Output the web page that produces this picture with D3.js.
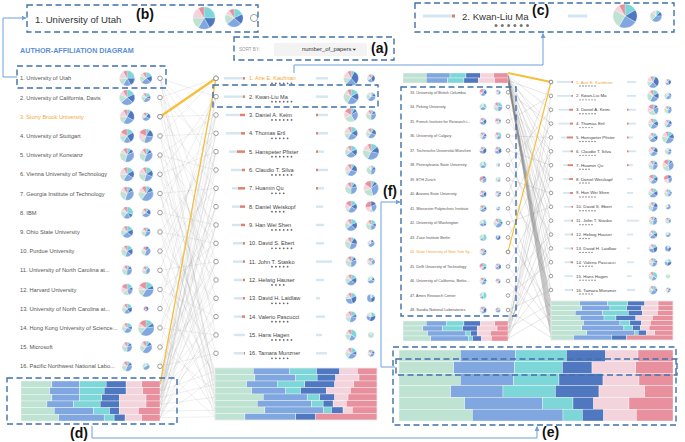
<!DOCTYPE html>
<html><head><meta charset="utf-8">
<script src="https://cdn.jsdelivr.net/npm/d3@7"></script>
<style>body{margin:0;background:#fff}svg{display:block}text{font-family:"Liberation Sans",Arial,sans-serif}</style>
</head><body><svg id="c" width="685" height="442"></svg>
<script>
// ---------------- DATA ----------------
const leftUnis = ["University of Utah","University of California, Davis","Stony Brook University","University of Stuttgart","University of Konstanz","Vienna University of Technology","Georgia Institute of Technology","IBM","Ohio State University","Purdue University","University of North Carolina at...","Harvard University","University of North Carolina at...","Hong Kong University of Science...","Microsoft","Pacific Northwest National Labo..."];
const leftR1 = [7.7,7.7,7.3,7,7,7,6.7,6,6,5.7,5,5.7,5,5,5,5];
const leftR2 = [6,4.5,4.3,7,6.5,7,7.3,4.5,4.5,4.5,4,7.5,2.5,8,6,3.5];
const leftP1 = [[3,2,2,2,2,1],[2,2,3,2,1,1],[1,3,3,2,2,1],[2,3,2,2,1,2],[1,1,4,3,1,1],[2,2,3,2,2,1],[1,1,4,3,1,1],[3,1,2,2,1,1],[2,2,3,2,1,1],[2,2,2,3,1,1],[1,1,3,3,1,1],[2,1,2,2,2,2],[2,2,2,2,1,1],[2,1,3,2,1,1],[1,1,3,3,1,1],[1,1,3,2,1,1]];
const leftP2 = [[2,2,3,2,1,1],[2,1,3,2,1,1],[1,2,3,1,1,1],[1,2,3,1,2,2],[1,1,4,3,1,1],[2,2,3,3,2,1],[1,1,4,2,1,1],[1,2,3,1,1,1],[1,1,3,2,1,1],[0,1,4,2,1,1],[1,0,3,2,1,1],[2,1,4,2,1,2],[0,2,1,0,0,2],[2,1,5,2,1,2],[1,1,4,2,1,1],[1,0,3,2,0,0]];
const leftHighlightIndex = 2;

const authors = ["Arie E. Kaufman","Kwan-Liu Ma","Daniel A. Keim","Thomas Ertl","Hanspeter Pfister","Claudio T. Silva","Huamin Qu","Daniel Weiskopf","Han Wei Shen","David S. Ebert","John T. Stasko","Helwig Hauser","David H. Laidlaw","Valerio Pascucci","Hans Hagen","Tamara Munzner"];
const authorStars = [6,6,6,5,6,6,4,4,6,6,5,4,5,5,6,5];
const authorBar1 = [21,21,19,19,16,14,13,13,13,12,12,11,11,11,11,11];
const authorRed1 = [2,2,5,4,8,3,7,5,4,2,2,2,2,3,0,1];
const authorBar2 = [12,12,12,12,8,12,8,7,8,8,16,8,4,9,6,11];
const authorRed2 = [0,0,2,2,2,2,2,0,0,0,0,0,0,0,0,0];
const authorR1 = [7.5,7.5,7,6.5,6,6,6,6,6,6,5.5,5.5,5.5,5.5,5.5,5.5];
const authorR2 = [4,4.5,5,5,8,4.5,7.5,5.5,5,3.5,4,3.5,4,4.5,3,3.5];
const authorP1 = [[1,4,3,2,2,1],[2,2,3,3,1,1],[1,1,3,3,2,2],[2,2,3,2,2,1],[2,2,3,2,1,1],[1,2,3,1,2,1],[1,1,3,3,1,1],[2,2,3,1,2,2],[2,2,3,2,1,1],[1,2,3,3,1,1],[1,1,3,3,1,1],[2,2,3,2,1,1],[2,3,3,1,1,1],[2,1,3,2,2,1],[3,0,2,2,1,1],[2,1,3,2,1,1]];
const authorP2 = [[1,3,2,1,1,1],[1,1,3,2,1,0],[1,1,3,3,1,1],[1,2,3,2,1,1],[2,2,4,3,2,1],[1,1,2,3,1,0],[1,1,4,3,2,2],[0,2,3,1,2,3],[2,1,2,3,1,1],[0,1,3,1,1,0],[1,0,2,2,1,1],[1,1,3,2,0,0],[1,2,3,0,0,0],[2,3,2,1,1,0],[0,0,0,1,0,0],[1,1,2,1,1,1]];
const authorHighlightIndex = 0;

const moreUnis = ["33. University of British Columbia","34. Peking University","35. French Institute for Research i...","36. University of Calgary","37. Technische Universität München","38. Pennsylvania State University","39. ETH Zurich","40. Arizona State University","41. Worcester Polytechnic Institute","42. University of Washington","43. Zuse Institute Berlin","44. State University of New York Sy...","45. Delft University of Technology","46. University of California, Berke...","47. Ames Research Center","48. Sandia National Laboratories"];
const moreR1 = [3.5,3.5,3.5,3.5,3.5,3.5,3.5,3.5,3.5,3.5,3.5,3.5,3.5,3.5,3.5,3.5];
const moreR2 = [2.5,4.5,3,3.5,3.5,2,2.5,3,2,4.5,2.5,0,3,2.5,0,2.5];
const moreP1 = [[1,2,2,0,1,2],[2,0,2,2,0,0],[1,2,2,0,1,1],[1,1,2,1,1,1],[1,3,2,0,1,1],[2,0,2,2,0,0],[0,1,2,1,0,2],[1,2,2,0,1,1],[1,1,2,1,0,1],[2,1,2,1,1,0],[3,0,1,2,0,0],[1,1,2,1,1,1],[2,1,1,0,1,2],[1,1,2,1,1,1],[3,0,1,2,0,0],[1,2,1,1,1,1]];
const moreP2 = [[1,1,1,1,1,1],[2,0,2,2,1,1],[1,1,1,2,1,2],[2,0,2,1,1,1],[1,2,2,0,1,1],[0,0,1,1,0,0],[1,0,1,2,0,0],[1,1,2,1,1,1],[0,1,2,1,0,0],[2,1,3,2,1,1],[0,3,2,0,0,0],[0,0,0,0,0,0],[1,2,2,0,1,1],[1,1,0,0,1,1],[0,0,0,0,0,0],[1,0,2,0,0,1]];
const moreHighlightIndex = 11;

// stacked bar rows: mint, blue, cyan, dark, lightpink, rose
const barLeft = [[93,83,80,60,47,55],[86,90,74,66,50,52],[93,83,67,53,80,42],[78,80,80,58,80,42],[100,118,48,30,57,65],[113,137,30,33,50,55]];
const barMiddle = [[115,110,80,70,53,59],[120,123,64,56,70,54],[95,92,83,90,57,70],[110,103,44,78,72,80],[145,132,38,45,40,87],[127,163,35,30,40,92],[150,177,23,35,28,74],[90,153,0,60,0,184]];
const barTopRight = [[70,72,48,44,40,43],[70,64,50,43,50,40]];
const barBottomMore = [[70,62,52,50,43,40],[60,60,60,44,60,33],[74,116,14,20,40,53],[84,113,13,27,30,50]];
const barRight = [[86,84,61,52,40,45],[93,85,50,45,50,45],[73,83,77,43,45,47],[88,72,36,60,50,62],[98,110,30,35,27,68],[93,127,26,24,26,72],[108,145,10,25,25,55],[68,115,0,45,0,140]];
const barZoom = [[184,166,152,118,97,105],[164,183,143,89,131,112],[184,160,136,132,108,102],[155,157,157,131,137,85],[197,233,92,62,106,132],[220,272,58,64,98,110]];

// links: [source, target]; left sources 0-15 list, 16-21 bar rows; targets 0-15 authors, 16-23 bar rows
const leftLinks = [[0,1],[0,5],[0,9],[0,14],[0,20],[1,0],[1,4],[1,10],[1,18],[2,6],[2,12],[3,3],[3,7],[3,11],[3,17],[4,2],[4,8],[4,15],[4,21],[5,4],[5,9],[5,13],[5,19],[6,6],[6,10],[6,16],[6,22],[7,1],[7,11],[7,18],[8,9],[8,14],[8,20],[9,3],[9,12],[9,23],[10,10],[10,15],[10,17],[11,5],[11,13],[11,21],[12,8],[12,16],[13,7],[13,14],[13,22],[14,2],[14,12],[14,19],[15,11],[15,15],[15,23],[16,0],[16,3],[16,7],[16,13],[17,1],[17,5],[17,9],[17,16],[18,2],[18,6],[18,11],[18,18],[19,4],[19,8],[19,14],[19,20],[20,6],[20,10],[20,15],[20,22],[21,12],[21,13],[21,17],[21,23],[0,3],[2,2],[3,0],[4,5],[5,1],[6,3],[7,8],[8,4],[9,6],[10,2],[11,9],[12,0],[13,4],[14,10],[15,7],[16,10],[17,14],[18,4],[19,1],[20,3],[21,8]];
const leftHiThick = [[2,0]];
const leftHiThin = [[16,0]];
// right sources: 0-1 top bar rows, 2-17 list, 18-21 bottom bar rows
const rightLinks = [[0,2],[0,4],[0,6],[0,8],[0,10],[0,12],[0,14],[0,16],[0,17],[0,18],[0,19],[0,20],[0,21],[0,22],[0,23],[1,1],[1,3],[1,5],[1,7],[1,9],[1,11],[1,13],[1,15],[1,16],[1,17],[1,18],[1,19],[1,20],[1,21],[1,22],[1,23],[2,3],[2,9],[3,5],[3,12],[4,1],[4,7],[5,4],[5,10],[6,6],[6,14],[7,2],[7,11],[8,8],[8,15],[9,0],[9,13],[10,3],[10,19],[11,9],[11,21],[12,5],[12,17],[14,7],[14,20],[15,11],[15,22],[16,13],[17,15],[17,23],[18,1],[18,6],[18,12],[19,4],[19,10],[19,16],[20,2],[20,8],[20,14],[21,5],[21,11],[21,18]];
const rightHiThick = [[0,0]];
const rightHiThin = [[13,0]];

// ---------------- STYLE ----------------
const COLORS = {mint:"#bfe3d3", blue:"#80a7df", cyan:"#7dd6d8", dark:"#5078c0", lpink:"#f4d4dc", rose:"#e8909d"};
const barKeys = ["mint","blue","cyan","dark","lpink","rose"];
const pieKeys = ["cyan","dark","blue","mint","lpink","rose"];
const ORANGE_TXT = "#f2a83a", ORANGE_LN = "#f7bf3c";
const DASH = "#3f70aa", CONN = "#6d9fd9";

const svg = d3.select("#c");
svg.append("rect").attr("width",685).attr("height",442).attr("fill","#fff");
const defs = svg.append("defs");
defs.append("marker").attr("id","arr").attr("viewBox","0 0 10 10").attr("refX",9).attr("refY",5)
  .attr("markerWidth",5).attr("markerHeight",5).attr("orient","auto")
  .append("path").attr("d","M0,0L10,5L0,10z").attr("fill",CONN);

const linkLayer = svg.append("g");
const markLayer = svg.append("g");
const boxLayer = svg.append("g");

// scales
const leftY = d3.scaleLinear().domain([0,15]).range([78.3,366.3]);
const midY = d3.scaleLinear().domain([0,15]).range([78.3,353.3]);
const moreY = d3.scaleLinear().domain([0,15]).range([92.3,310]);
const rightY = d3.scaleLinear().domain([0,15]).range([82,290]);

function stacked(rows, x0, x1, y0, y1, border){
  const band = d3.scaleBand().domain(d3.range(rows.length)).range([y0,y1]);
  const gg = markLayer.append("g");
  rows.forEach((row,i)=>{
    const x = d3.scaleLinear().domain([0,d3.sum(row)]).range([x0,x1]);
    const cum = d3.cumsum(row);
    gg.selectAll(null).data(row).join("rect")
      .attr("x",(v,k)=>x(cum[k]-v)).attr("width",v=>x(v)-x(0))
      .attr("y",band(i)).attr("height",band.bandwidth())
      .attr("fill",(v,k)=>COLORS[barKeys[k]])
      .attr("stroke","#fff").attr("stroke-width",0.35);
  });
  if(border) gg.append("rect").attr("x",x0).attr("y",y0).attr("width",x1-x0).attr("height",y1-y0)
    .attr("fill","none").attr("stroke","#e2e2e2").attr("stroke-width",0.6);
  return i => band(i)+band.bandwidth()/2;
}
function pie(cx, cy, r, vals){
  if(!r || d3.sum(vals)===0) return;
  const arcs = d3.pie().sort(null)(vals);
  const arc = d3.arc().innerRadius(0).outerRadius(r);
  markLayer.append("g").attr("transform",`translate(${cx},${cy})`)
    .selectAll("path").data(arcs).join("path").attr("d",arc)
    .attr("fill",(d,i)=>COLORS[pieKeys[i]]).attr("stroke","#fff").attr("stroke-width",0.25);
}
function node(cx, cy, r){
  markLayer.append("circle").attr("cx",cx).attr("cy",cy).attr("r",r||2.3)
    .attr("fill","#fff").attr("stroke","#888").attr("stroke-width",0.8);
}
function text(x,y,s,size,fill,opts){
  const t = markLayer.append("text").attr("x",x).attr("y",y).attr("font-size",size).attr("fill",fill).text(s);
  if(opts){ for(const k in opts) t.attr(k,opts[k]); }
  return t;
}

// ---------------- STACKED BARS ----------------
const leftBarY = stacked(barLeft, 21, 160, 381, 421, false);
const midBarY = stacked(barMiddle, 215, 377, 368, 420, true);
const topBarY = stacked(barTopRight, 403, 508, 73, 83, false);
const botBarY = stacked(barBottomMore, 403, 508, 321, 341, false);
const rightBarY = stacked(barRight, 551, 673, 301, 340, true);
stacked(barZoom, 399, 673, 350, 421, false);

// ---------------- LINKS ----------------
const leftSrc = i => i<16 ? [160, leftY(i)] : [160, leftBarY(i-16)];
const leftDst = j => j<16 ? [216, midY(j)] : [215, midBarY(j-16)];
const rightSrc = i => i<2 ? [508, topBarY(i)] : (i<18 ? [508, moreY(i-2)] : [508, botBarY(i-18)]);
const rightDst = j => j<16 ? [551, rightY(j)] : [551, rightBarY(j-16)];

function drawLinks(list, src, dst, stroke, width, op){
  linkLayer.append("g").selectAll("line").data(list).join("line")
    .attr("x1",d=>src(d[0])[0]).attr("y1",d=>src(d[0])[1])
    .attr("x2",d=>dst(d[1])[0]).attr("y2",d=>dst(d[1])[1])
    .attr("stroke",stroke).attr("stroke-width",width).attr("stroke-opacity",op);
}
drawLinks(leftLinks, leftSrc, leftDst, "#8a8a8a", 0.7, 0.2);
drawLinks(rightLinks, rightSrc, rightDst, "#7a7a7a", 0.6, 0.3);

// ---------------- LEFT LIST ----------------
leftUnis.forEach((u,i)=>{
  const y = leftY(i);
  text(20, y+2, `${i+1}. ${u}`, 5.7, i===leftHighlightIndex?ORANGE_TXT:"#555");
  pie(127, y, leftR1[i], leftP1[i]);
  pie(146, y, leftR2[i], leftP2[i]);
  node(160, y);
});

// ---------------- MIDDLE LIST ----------------
const lenS = d3.scaleLinear().domain([0,21]).range([0,21]);
authors.forEach((a,i)=>{
  const y = midY(i);
  node(216, y);
  markLayer.append("rect").attr("x",245-lenS(authorBar1[i])).attr("y",y-1.2).attr("width",lenS(authorBar1[i])).attr("height",2.4).attr("fill","#d3e6f1");
  if(authorRed1[i]) markLayer.append("rect").attr("x",245-lenS(authorRed1[i])).attr("y",y-1.2).attr("width",lenS(authorRed1[i])).attr("height",2.4).attr("fill","#e47f68");
  text(249, y+2, `${i+1}. ${a}`, 5.6, i===authorHighlightIndex?ORANGE_TXT:"#444");
  markLayer.append("g").selectAll("circle").data(d3.range(authorStars[i])).join("circle")
    .attr("cx",k=>272+k*3.9).attr("cy",y+5).attr("r",0.9).attr("fill","#666");
  markLayer.append("rect").attr("x",316).attr("y",y-1.2).attr("width",lenS(authorBar2[i])).attr("height",2.4).attr("fill","#d3e6f1");
  if(authorRed2[i]) markLayer.append("rect").attr("x",316).attr("y",y-1.2).attr("width",lenS(authorRed2[i])).attr("height",2.4).attr("fill","#e47f68");
  pie(351, y, authorR1[i], authorP1[i]);
  pie(371, y, authorR2[i], authorP2[i]);
});

// ---------------- MORE UNIS (f) ----------------
moreUnis.forEach((u,i)=>{
  const y = moreY(i);
  text(410, y+1.4, u, 3.8, i===moreHighlightIndex?ORANGE_TXT:"#555");
  pie(483, y, moreR1[i], moreP1[i]);
  pie(498, y, moreR2[i], moreP2[i]);
  node(508, y, 1.8);
});

// ---------------- RIGHT AUTHOR LIST ----------------
const lenR = d3.scaleLinear().domain([0,21]).range([0,16]);
authors.forEach((a,i)=>{
  const y = rightY(i);
  node(551, y, 1.8);
  markLayer.append("rect").attr("x",573-lenR(authorBar1[i])).attr("y",y-0.9).attr("width",lenR(authorBar1[i])).attr("height",1.8).attr("fill","#d3e6f1");
  if(authorRed1[i]) markLayer.append("rect").attr("x",573-lenR(authorRed1[i])).attr("y",y-0.9).attr("width",lenR(authorRed1[i])).attr("height",1.8).attr("fill","#e47f68");
  text(576, y+1.5, `${i+1}. ${a}`, 4.4, i===authorHighlightIndex?ORANGE_TXT:"#444");
  markLayer.append("g").selectAll("circle").data(d3.range(authorStars[i])).join("circle")
    .attr("cx",k=>580+k*3).attr("cy",y+4).attr("r",0.7).attr("fill","#666");
  markLayer.append("rect").attr("x",627).attr("y",y-0.9).attr("width",lenR(authorBar2[i])).attr("height",1.8).attr("fill","#d3e6f1");
  if(authorRed2[i]) markLayer.append("rect").attr("x",627).attr("y",y-0.9).attr("width",lenR(authorRed2[i])).attr("height",1.8).attr("fill","#e47f68");
  pie(653, y, authorR1[i]*0.78, authorP1[i]);
  pie(668, y, authorR2[i]*0.75, authorP2[i]);
});

// ---------------- HIGHLIGHT LINKS ----------------
drawLinks(leftHiThick, leftSrc, leftDst, ORANGE_LN, 2.4, 1);
drawLinks(leftHiThin, leftSrc, leftDst, ORANGE_LN, 1.3, 1);
drawLinks(rightHiThick, i=>[508,73], rightDst, ORANGE_LN, 2.2, 1);
drawLinks(rightHiThin, rightSrc, rightDst, ORANGE_LN, 1.2, 1);
node(160, leftY(leftHighlightIndex)); node(216, midY(authorHighlightIndex));
node(551, rightY(authorHighlightIndex), 1.8); node(508, moreY(moreHighlightIndex), 1.8);

// ---------------- ZOOMED DETAIL (b) and (c) ----------------
text(35, 22.5, `1. ${leftUnis[0]}`, 9.6, "#333");
pie(204, 18, leftR1[0]*1.45, leftP1[0]);
pie(234, 18, leftR2[0]*1.5, leftP2[0]);
node(254, 18, 3.6);

markLayer.append("rect").attr("x",423).attr("y",14.5).attr("width",lenS(authorBar1[1])*1.5).attr("height",3).attr("fill","#d3e6f1");
markLayer.append("rect").attr("x",452).attr("y",14.5).attr("width",lenS(authorRed1[1])*1.5).attr("height",3).attr("fill","#e47f68");
text(462, 19.5, `2. ${authors[1]}`, 9.6, "#333");
markLayer.append("g").selectAll("circle").data(d3.range(authorStars[1])).join("circle")
  .attr("cx",k=>496+k*6.3).attr("cy",25.5).attr("r",1.5).attr("fill","#777");
markLayer.append("rect").attr("x",568).attr("y",14.5).attr("width",lenS(authorBar2[1])*1.6).attr("height",3).attr("fill","#d3e6f1");
pie(625, 16, authorR1[1]*1.6, authorP1[1]);
pie(656, 16, authorR2[1]*1.3, authorP2[1]);

// ---------------- HEADER / SORT ----------------
text(20, 52.5, "AUTHOR-AFFILIATION DIAGRAM", 7.2, "#5b8fd6", {"font-weight":"bold"});
text(239, 51, "SORT BY:", 4.6, "#999");
markLayer.append("rect").attr("x",274).attr("y",43).attr("width",93).attr("height",13).attr("fill","#f3f3f3");
text(302, 51.2, "number_of_papers", 5.9, "#333");
markLayer.append("path").attr("d","M352.5,48.8L356,48.8L354.25,50.8Z").attr("fill","#333");

// ---------------- DASHED BOXES ----------------
const boxes = [[27,5,258,32],[17,66,166,88],[234,37,394,60],[415,3,674,32],[213,85,378,107],[401,87,516,316],[7,378,177,424],[393,347,676,425],[396,359,677,375]];
boxLayer.selectAll("rect").data(boxes).join("rect")
  .attr("x",d=>d[0]).attr("y",d=>d[1]).attr("width",d=>d[2]-d[0]).attr("height",d=>d[3]-d[1])
  .attr("fill","none").attr("stroke",DASH).attr("stroke-width",1.4).attr("stroke-dasharray","6,3.5");

const conns = ["M17,77H3V18H26","M294,73V65H543V33.5","M92,426V438H537V426.5","M395,367H381V202H400"];
boxLayer.selectAll("path.c").data(conns).join("path").attr("class","c").attr("d",d=>d)
  .attr("fill","none").attr("stroke",CONN).attr("stroke-width",1).attr("marker-end","url(#arr)");

const labels = [["(a)",371,52.5],["(b)",136,19],["(c)",532,15],["(d)",70,438],["(e)",542,436.5],["(f)",383,195.5]];
boxLayer.selectAll("text").data(labels).join("text")
  .attr("x",d=>d[1]).attr("y",d=>d[2]).text(d=>d[0])
  .attr("font-family","'Liberation Serif','DejaVu Serif',serif").attr("font-weight","bold")
  .attr("font-size",14).attr("fill","#111");
</script></body></html>
